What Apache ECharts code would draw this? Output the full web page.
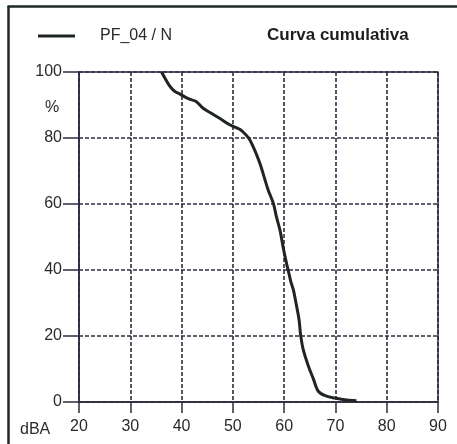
<!DOCTYPE html>
<html>
<head>
<meta charset="utf-8">
<script src="https://cdn.jsdelivr.net/npm/echarts@6/dist/echarts.min.js"></script>
<style>
  html, body { margin: 0; padding: 0; background: #fff; }
  #chart { width: 457px; height: 444px; }
</style>
</head>
<body>
<div id="chart"></div>
<script>
// Cumulative level distribution: percentage of time above each level (dBA)
const seriesName = 'PF_04 / N';
const chartTitle = 'Curva cumulativa';
const levelsDBA = [36.1, 37.7, 38.7, 39.7, 41.3, 42.9, 44.2, 45.9, 47.5, 49.4, 51.4, 52.7, 53.3, 54.3, 55.3, 55.9, 56.9, 57.9, 58.5, 59.2, 59.8, 60.5, 61.0, 61.3, 61.8, 62.3, 62.9, 63.2, 63.7, 64.7, 65.7, 66.6, 68.0, 69.9, 72.2, 74.1];
const percentAbove = [100, 95.7, 94.1, 93.3, 91.9, 91.0, 89.0, 87.4, 85.9, 84.0, 82.6, 80.7, 79.5, 76.2, 72.2, 69.2, 64.2, 60.2, 56.1, 52.0, 46.9, 41.8, 38.5, 36.5, 34.0, 30.1, 25.0, 20.5, 16.0, 11.0, 7.0, 3.4, 1.9, 1.2, 0.6, 0.4];
const xTicks = [20, 30, 40, 50, 60, 70, 80, 90];
const yTicks = [0, 20, 40, 60, 80, 100];

const lineColor = '#2c2c40';
const textColor = '#2a2a2a';
const fontFamily = 'Liberation Sans, Arial, sans-serif';

const chart = echarts.init(document.getElementById('chart'), null, { renderer: 'canvas' });

chart.setOption({
  animation: false,
  backgroundColor: '#ffffff',
  textStyle: { fontFamily: fontFamily },
  title: {
    text: chartTitle,
    left: 262,
    top: 22,
    textStyle: { fontSize: 17, fontWeight: 'bold', color: '#1e1e1e', fontFamily: fontFamily }
  },
  legend: {
    left: 33,
    top: 23,
    icon: 'rect',
    itemWidth: 37,
    itemHeight: 3,
    data: [seriesName],
    textStyle: { fontSize: 16, color: textColor, padding: [0, 0, 0, 20], fontFamily: fontFamily }
  },
  grid: {
    left: 79,
    right: 19,
    top: 72,
    bottom: 42,
    show: true,
    borderColor: lineColor,
    borderWidth: 1.5,
    containLabel: false
  },
  xAxis: {
    type: 'value',
    min: xTicks[0],
    max: xTicks[xTicks.length - 1],
    interval: 10,
    axisLine: { show: true, onZero: false, lineStyle: { color: lineColor, width: 1.5 } },
    axisTick: { show: true, length: 11, lineStyle: { color: lineColor, width: 1.5 } },
    axisLabel: { margin: 17, fontSize: 16, color: textColor, fontFamily: fontFamily },
    splitLine: { show: true, lineStyle: { color: lineColor, width: 1.6, type: [4, 2] } }
  },
  yAxis: {
    type: 'value',
    min: yTicks[0],
    max: yTicks[yTicks.length - 1],
    interval: 20,
    axisLine: { show: true, onZero: false, lineStyle: { color: lineColor, width: 1.5 } },
    axisTick: { show: true, length: 16, lineStyle: { color: lineColor, width: 1.5 } },
    axisLabel: { margin: 17, fontSize: 16, color: textColor, fontFamily: fontFamily },
    splitLine: { show: true, lineStyle: { color: lineColor, width: 1.6, type: [4, 2] } }
  },
  graphic: [
    // outer frame (left and top edges)
    { type: 'line', shape: { x1: 8.5, y1: 6, x2: 8.5, y2: 444 }, style: { stroke: '#1e2a2a', lineWidth: 2.5 } },
    { type: 'line', shape: { x1: 7.5, y1: 6.5, x2: 457, y2: 6.5 }, style: { stroke: '#1e2a2a', lineWidth: 2.5 } },
    // axis units
    { type: 'text', left: 45, top: 100, style: { text: '%', fontSize: 16, fill: textColor, fontFamily: fontFamily } },
    { type: 'text', left: 20, top: 422, style: { text: 'dBA', fontSize: 16, fill: textColor, fontFamily: fontFamily } }
  ],
  series: [{
    name: seriesName,
    type: 'line',
    showSymbol: false,
    symbol: 'none',
    smooth: 0.3,
    color: '#1f2622',
    lineStyle: { color: '#1f2622', width: 3 },
    data: levelsDBA.map((x, i) => [x, percentAbove[i]])
  }]
});
</script>
</body>
</html>
